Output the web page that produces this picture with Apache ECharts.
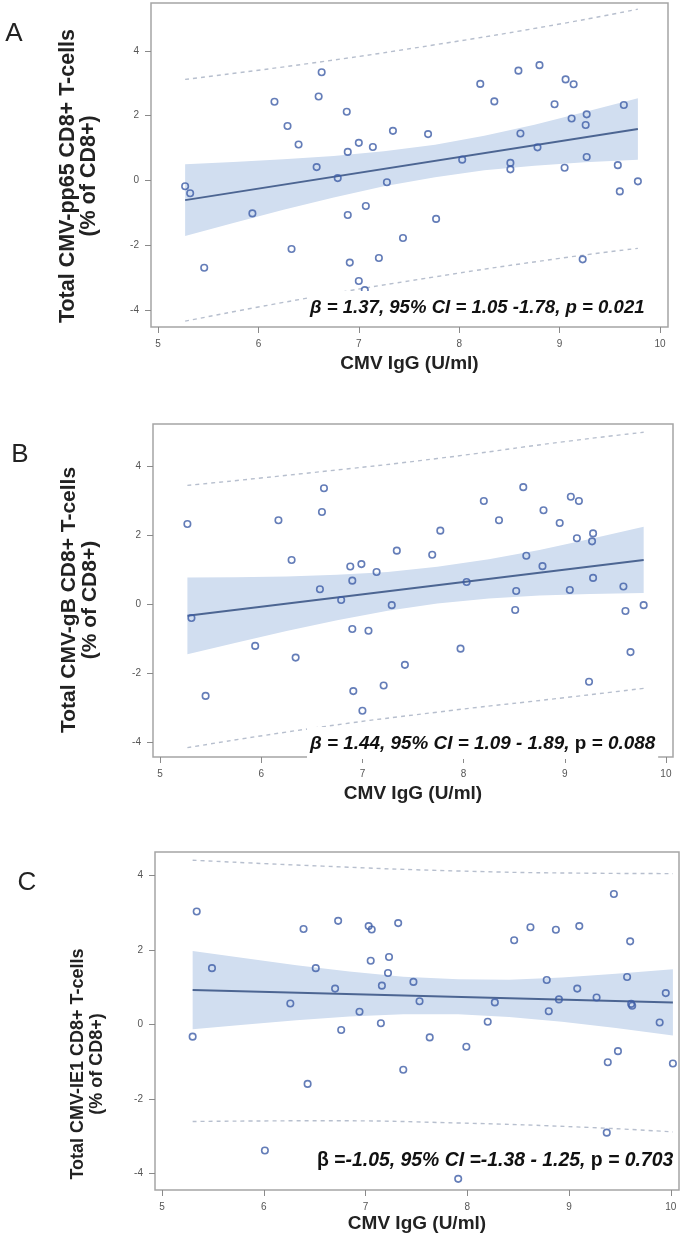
<!DOCTYPE html>
<html><head><meta charset="utf-8">
<script src="https://cdn.jsdelivr.net/npm/echarts@6/dist/echarts.min.js"></script>
<style>html,body{margin:0;padding:0;background:#fff}#c{width:685px;height:1237px}</style>
</head><body><div id="c"></div><script>
// ---------- data ----------
const xTicks = [5, 6, 7, 8, 9, 10];
const yTicks = [-4, -2, 0, 2, 4];
const xTitle = 'CMV IgG (U/ml)';

// Panel A: CMV-pp65
const aX = [5.27,5.32,5.46,5.94,6.16,6.29,6.33,6.40,6.58,6.60,6.63,6.79,6.88,6.89,6.89,6.91,7.00,7.00,7.06,7.07,7.14,7.20,7.28,7.34,7.44,7.69,7.77,8.03,8.21,8.35,8.51,8.51,8.59,8.61,8.78,8.80,8.95,9.05,9.06,9.12,9.14,9.23,9.27,9.26,9.27,9.58,9.60,9.64,9.78];
const aY = [-0.18,-0.40,-2.70,-1.02,2.43,1.68,-2.12,1.11,0.41,2.59,3.34,0.07,2.12,0.88,-1.07,-2.54,1.16,-3.11,-3.39,-0.79,1.03,-2.40,-0.06,1.53,-1.78,1.43,-1.19,0.64,2.98,2.44,0.54,0.34,3.39,1.45,1.02,3.56,2.35,0.39,3.12,1.91,2.97,-2.44,2.04,1.71,0.72,0.47,-0.34,2.33,-0.03];
const aFitX = [5.27, 9.78];
const aFitY = [-0.61, 1.59];
const aBandX = [5.27,5.75,6.25,6.75,7.25,7.76,8.25,8.75,9.25,9.78];
const aBandLo = [-1.72,-1.32,-0.91,-0.53,-0.18,0.10,0.31,0.45,0.56,0.64];
const aBandHi = [0.50,0.57,0.65,0.75,0.90,1.10,1.38,1.72,2.11,2.54];
const aPredX = [5.27,6.5,7.76,9.0,9.78];
const aPredLo = [-4.35,-3.63,-2.98,-2.41,-2.10];
const aPredHi = [3.12,3.61,4.19,4.83,5.29];

// Panel B: CMV-gB
const bX = [5.27,5.31,5.45,5.94,6.17,6.30,6.34,6.58,6.60,6.62,6.79,6.88,6.90,6.90,6.91,6.99,7.00,7.06,7.14,7.21,7.29,7.34,7.42,7.69,7.77,7.97,8.03,8.20,8.35,8.51,8.52,8.59,8.62,8.78,8.79,8.95,9.05,9.06,9.12,9.14,9.24,9.28,9.27,9.28,9.58,9.60,9.65,9.78];
const bY = [2.33,-0.39,-2.65,-1.20,2.44,1.29,-1.54,0.44,2.68,3.37,0.13,1.10,0.69,-0.71,-2.51,1.17,-3.08,-0.76,0.94,-2.35,-0.02,1.56,-1.75,1.44,2.14,-1.28,0.65,3.00,2.44,-0.16,0.39,3.40,1.41,1.11,2.73,2.36,0.42,3.12,1.92,3.00,-2.24,2.06,1.83,0.77,0.52,-0.19,-1.38,-0.02];
const bFitX = [5.27, 9.78];
const bFitY = [-0.33, 1.29];
const bBandX = [5.27,5.75,6.25,6.75,7.25,7.74,8.25,8.75,9.25,9.78];
const bBandLo = [-1.44,-1.11,-0.77,-0.46,-0.18,0.03,0.17,0.26,0.30,0.33];
const bBandHi = [0.78,0.79,0.81,0.86,0.94,1.09,1.31,1.58,1.90,2.25];
const bPredX = [5.27,6.5,7.74,9.0,9.78];
const bPredLo = [-4.15,-3.59,-3.12,-2.70,-2.43];
const bPredHi = [3.45,3.82,4.23,4.72,4.99];

// Panel C: CMV-IE1
const cX = [5.30,5.34,5.49,6.01,6.26,6.39,6.43,6.51,6.70,6.73,6.76,6.94,7.03,7.06,7.05,7.15,7.16,7.22,7.23,7.32,7.37,7.47,7.53,7.63,7.91,7.99,8.20,8.27,8.46,8.62,8.78,8.80,8.87,8.90,9.08,9.10,9.27,9.37,9.38,9.44,9.48,9.57,9.60,9.61,9.62,9.89,9.95,10.02];
const cY = [-0.33,3.03,1.51,-3.39,0.56,2.56,-1.60,1.51,0.96,2.78,-0.15,0.34,2.64,2.55,1.71,0.03,1.04,1.38,1.81,2.72,-1.22,1.14,0.62,-0.35,-4.15,-0.60,0.07,0.59,2.26,2.61,1.19,0.35,2.54,0.67,0.96,2.64,0.72,-2.91,-1.02,3.50,-0.72,1.27,2.23,0.55,0.50,0.05,0.84,-1.05];
const cFitX = [5.30, 10.02];
const cFitY = [0.92, 0.59];
const cBandX = [5.30,5.80,6.32,6.84,7.37,7.91,8.41,8.93,9.46,10.02];
const cBandLo = [-0.13,-0.01,0.11,0.21,0.27,0.27,0.20,0.07,-0.10,-0.30];
const cBandHi = [1.97,1.78,1.59,1.42,1.28,1.21,1.20,1.26,1.36,1.48];
const cPredX = [5.30,6.58,7.91,9.20,10.02];
const cPredLo = [-2.61,-2.59,-2.65,-2.77,-2.89];
const cPredHi = [4.41,4.25,4.12,4.06,4.05];

// ---------- layout / styles ----------
const FONT = '"Liberation Sans", Arial, sans-serif';
const panels = [
  { letter:'A', letterPos:[14,34], grid:{left:151, top:3, width:517, height:324},
    xr:[4.93,10.08], yr:[-4.53,5.48],
    xs:aX, ys:aY, fx:aFitX, fy:aFitY, bx:aBandX, blo:aBandLo, bhi:aBandHi, px:aPredX, plo:aPredLo, phi:aPredHi,
    ytitle:'Total CMV-pp65 CD8+ T-cells\n(% of CD8+)', ytPos:[78.5,176], ytFont:21.5, ytLH:21,
    note:'{a|β = 1.37, 95% CI = 1.05 -1.78, p = 0.021}', notePos:[307,291], noteSize:18.6, notePad:[7,3,7,3], nameGap:27 },
  { letter:'B', letterPos:[20,455], grid:{left:153, top:424, width:520, height:333},
    xr:[4.93,10.07], yr:[-4.42,5.23],
    xs:bX, ys:bY, fx:bFitX, fy:bFitY, bx:bBandX, blo:bBandLo, bhi:bBandHi, px:bPredX, plo:bPredLo, phi:bPredHi,
    ytitle:'Total CMV-gB CD8+ T-cells\n(% of CD8+)', ytPos:[80,600], ytFont:21, ytLH:21,
    note:'{a|β = 1.44, 95% CI = 1.09 - 1.89, }{b|p}{a| = 0.088}', notePos:[307,727], noteSize:18.9, notePad:[7,3,6,3], nameGap:27 },
  { letter:'C', letterPos:[27,883], grid:{left:155, top:852, width:524, height:338},
    xr:[4.93,10.08], yr:[-4.45,4.63],
    xs:cX, ys:cY, fx:cFitX, fy:cFitY, bx:cBandX, blo:cBandLo, bhi:cBandHi, px:cPredX, plo:cPredLo, phi:cPredHi,
    ytitle:'Total CMV-IE1 CD8+ T-cells\n(% of CD8+)', ytPos:[88,1064], ytFont:18, ytLH:19,
    note:'{b|β =}{a|-1.05, 95% CI =-1.38 - 1.25, }{b|p}{a| = 0.703}', notePos:[314,1148], noteSize:19.4, notePad:[3,3,2,3], nameGap:24 }
];

const grids = [], xAxes = [], yAxes = [], series = [], graphics = [];
panels.forEach((p, i) => {
  grids.push(Object.assign({show:true, borderColor:'#a5a5a5', borderWidth:1.5, containLabel:false}, p.grid));
  xAxes.push({
    type:'value', gridIndex:i, min:p.xr[0], max:p.xr[1], position:'bottom',
    axisLine:{show:false, onZero:false}, splitLine:{show:false},
    axisTick:{show:true, customValues:xTicks, length:6, lineStyle:{color:'#8a8a8a', width:1}},
    axisLabel:{customValues:xTicks, color:'#555', fontSize:10, fontFamily:FONT, margin:12},
    name:xTitle, nameLocation:'middle', nameGap:p.nameGap,
    nameTextStyle:{fontFamily:FONT, fontWeight:'bold', fontSize:19, color:'#222'}
  });
  yAxes.push({
    type:'value', gridIndex:i, min:p.yr[0], max:p.yr[1], position:'left',
    axisLine:{show:false, onZero:false}, splitLine:{show:false},
    axisTick:{show:true, customValues:yTicks, length:6, lineStyle:{color:'#8a8a8a', width:1}},
    axisLabel:{customValues:yTicks, color:'#555', fontSize:10, fontFamily:FONT, margin:12}
  });
  const bandRows = p.bx.map((x, k) => [x, p.blo[k], p.bhi[k]]);
  series.push({
    type:'custom', xAxisIndex:i, yAxisIndex:i, silent:true, z:1, clip:true,
    data: bandRows, encode:{x:0, y:[1,2]},
    renderItem:(params, api) => {
      if (params.dataIndex !== 0) return null;
      const pts = [];
      bandRows.forEach(r => pts.push(api.coord([r[0], r[2]])));
      for (let k = bandRows.length - 1; k >= 0; k--) pts.push(api.coord([bandRows[k][0], bandRows[k][1]]));
      return {type:'polygon', shape:{points:pts}, style:{fill:'#d1def0'}};
    }
  });
  [p.plo, p.phi].forEach(arr => series.push({
    type:'line', xAxisIndex:i, yAxisIndex:i, silent:true, z:2, symbol:'none', smooth:true,
    data:p.px.map((x, k) => [x, arr[k]]),
    lineStyle:{color:'#b7bfce', width:1.4, type:[4,4]}
  }));
  series.push({
    type:'line', xAxisIndex:i, yAxisIndex:i, silent:true, z:3, symbol:'none',
    data:p.fx.map((x, k) => [x, p.fy[k]]),
    lineStyle:{color:'#4c6592', width:2}
  });
  series.push({
    type:'scatter', xAxisIndex:i, yAxisIndex:i, z:5, symbol:'circle', symbolSize:6.5,
    data:p.xs.map((x, k) => [x, p.ys[k]]),
    itemStyle:{color:'rgba(255,255,255,0)', borderColor:'#3d5ca6', borderWidth:1.6}
  });
  graphics.push({
    type:'text', x:p.letterPos[0], y:p.letterPos[1], z:10,
    style:{text:p.letter, font:'26px ' + FONT, fill:'#222', align:'center', verticalAlign:'middle'}
  });
  graphics.push({
    type:'text', x:p.ytPos[0], y:p.ytPos[1], rotation:Math.PI/2, z:10,
    style:{text:p.ytitle, font:'bold ' + p.ytFont + 'px ' + FONT, fill:'#222', align:'center', verticalAlign:'middle', lineHeight:p.ytLH}
  });
  graphics.push({
    type:'text', left:p.notePos[0], top:p.notePos[1], z:20,
    style:{text:p.note, backgroundColor:'#fff', padding:p.notePad,
      rich:{
        a:{fontFamily:FONT, fontSize:p.noteSize, fontWeight:'bold', fontStyle:'italic', fill:'#111'},
        b:{fontFamily:FONT, fontSize:p.noteSize, fontWeight:'bold', fontStyle:'normal', fill:'#111'}
      }}
  });
});

const chart = echarts.init(document.getElementById('c'), null, {renderer:'canvas', width:685, height:1237});
chart.setOption({
  animation:false, backgroundColor:'#fff',
  grid:grids, xAxis:xAxes, yAxis:yAxes, series:series, graphic:graphics
});
</script></body></html>
